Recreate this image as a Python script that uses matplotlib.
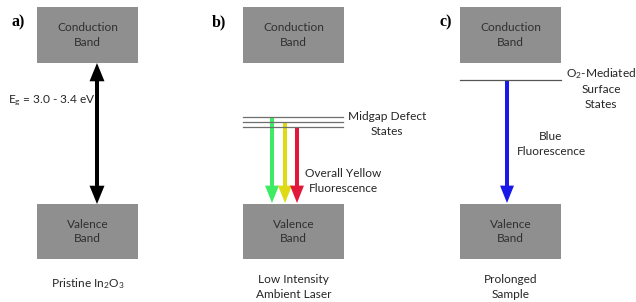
import matplotlib.pyplot as plt
from matplotlib.patches import Rectangle, FancyArrowPatch

# Band diagram panels (pixel coordinates of a 636x302 canvas)
panel_labels = ['a)', 'b)', 'c)']
panel_label_x = [12, 212, 440]
panel_x = [37, 243, 460]          # left edge of band boxes
box_w = 101
cb_top, cb_bot = 7, 63            # conduction band box
vb_top, vb_bot = 204, 259         # valence band box
captions = ['Pristine In$_2$O$_3$', 'Low Intensity\nAmbient Laser', 'Prolonged\nSample']

# a) band gap arrow
gap_x = 97
gap_label = 'E$_\\mathregular{g}$ = 3.0 - 3.4 eV'

# b) midgap defect levels and emission arrows
defect_levels = [117, 122, 127]
defect_arrow_x = [272, 285, 297]
defect_colors = ['#3eec64', '#dedb14', '#e2183a']

# c) surface state level
surface_level = 80
surface_arrow_x = 507
surface_color = '#1818e8'

box_color = '#8f8f8f'
font = 'Lato'
fs = 8.6
px = 72 / 100  # points per pixel

plt.rcParams['mathtext.fontset'] = 'custom'
plt.rcParams['mathtext.rm'] = font
plt.rcParams['mathtext.it'] = font

fig = plt.figure(figsize=(6.36, 3.02), dpi=100)
ax = fig.add_axes([0, 0, 1, 1])
ax.set_xlim(0, 636)
ax.set_ylim(302, 0)
ax.axis('off')


def arrow(x, y0, y1, color, both=False, lw=4, hw=8, hl=10):
    # lw, hw (full head width), hl given in pixels
    style = '<|-|>' if both else '-|>'
    a = FancyArrowPatch((x, y0), (x, y1),
                        arrowstyle=f'{style},head_width={hw / 2 * px},head_length={hl * px}',
                        color=color, lw=lw * px, shrinkA=0, shrinkB=0, mutation_scale=1,
                        joinstyle='miter', capstyle='butt')
    ax.add_patch(a)


def label(x, y, s, color='#262626', ha='center'):
    ax.text(x, y, s, ha=ha, va='center', family=font, fontsize=fs, color=color,
            linespacing=1.4)


for i, x0 in enumerate(panel_x):
    cx = x0 + box_w / 2
    ax.add_patch(Rectangle((x0, cb_top), box_w, cb_bot - cb_top, color=box_color, lw=0))
    ax.add_patch(Rectangle((x0, vb_top), box_w, vb_bot - vb_top, color=box_color, lw=0))
    label(cx, (cb_top + cb_bot) / 2, 'Conduction\nBand', color='#303030')
    label(cx, (vb_top + vb_bot) / 2, 'Valence\nBand', color='#303030')
    label(cx, 287 if i > 0 else 284, captions[i])
    ax.text(panel_label_x[i], 22, panel_labels[i], family=['Liberation Serif', 'DejaVu Serif'],
            weight='bold', fontsize=11.5, va='center')

# a) band gap
arrow(gap_x, cb_bot, vb_top, 'black', both=True, lw=4, hw=9, hl=11)
label(8, 101, gap_label, ha='left')

# b) defect states
for y in defect_levels:
    ax.plot([243, 343], [y, y], color='#6e6e6e', lw=0.9)
for x, y, c in zip(defect_arrow_x, defect_levels, defect_colors):
    arrow(x, y, vb_top - 1, c, lw=4, hw=8, hl=10)
label(387, 124, 'Midgap Defect\nStates')
label(343, 181, 'Overall Yellow\nFluorescence')

# c) surface states
ax.plot([460, 561], [surface_level, surface_level], color='#555555', lw=0.9)
arrow(surface_arrow_x, surface_level, vb_top - 1, surface_color, lw=4, hw=8, hl=10)
label(601, 88, 'O$_2$-Mediated\nSurface\nStates')
label(551, 144, 'Blue\nFluorescence')

fig.savefig('out.png', dpi=100)
